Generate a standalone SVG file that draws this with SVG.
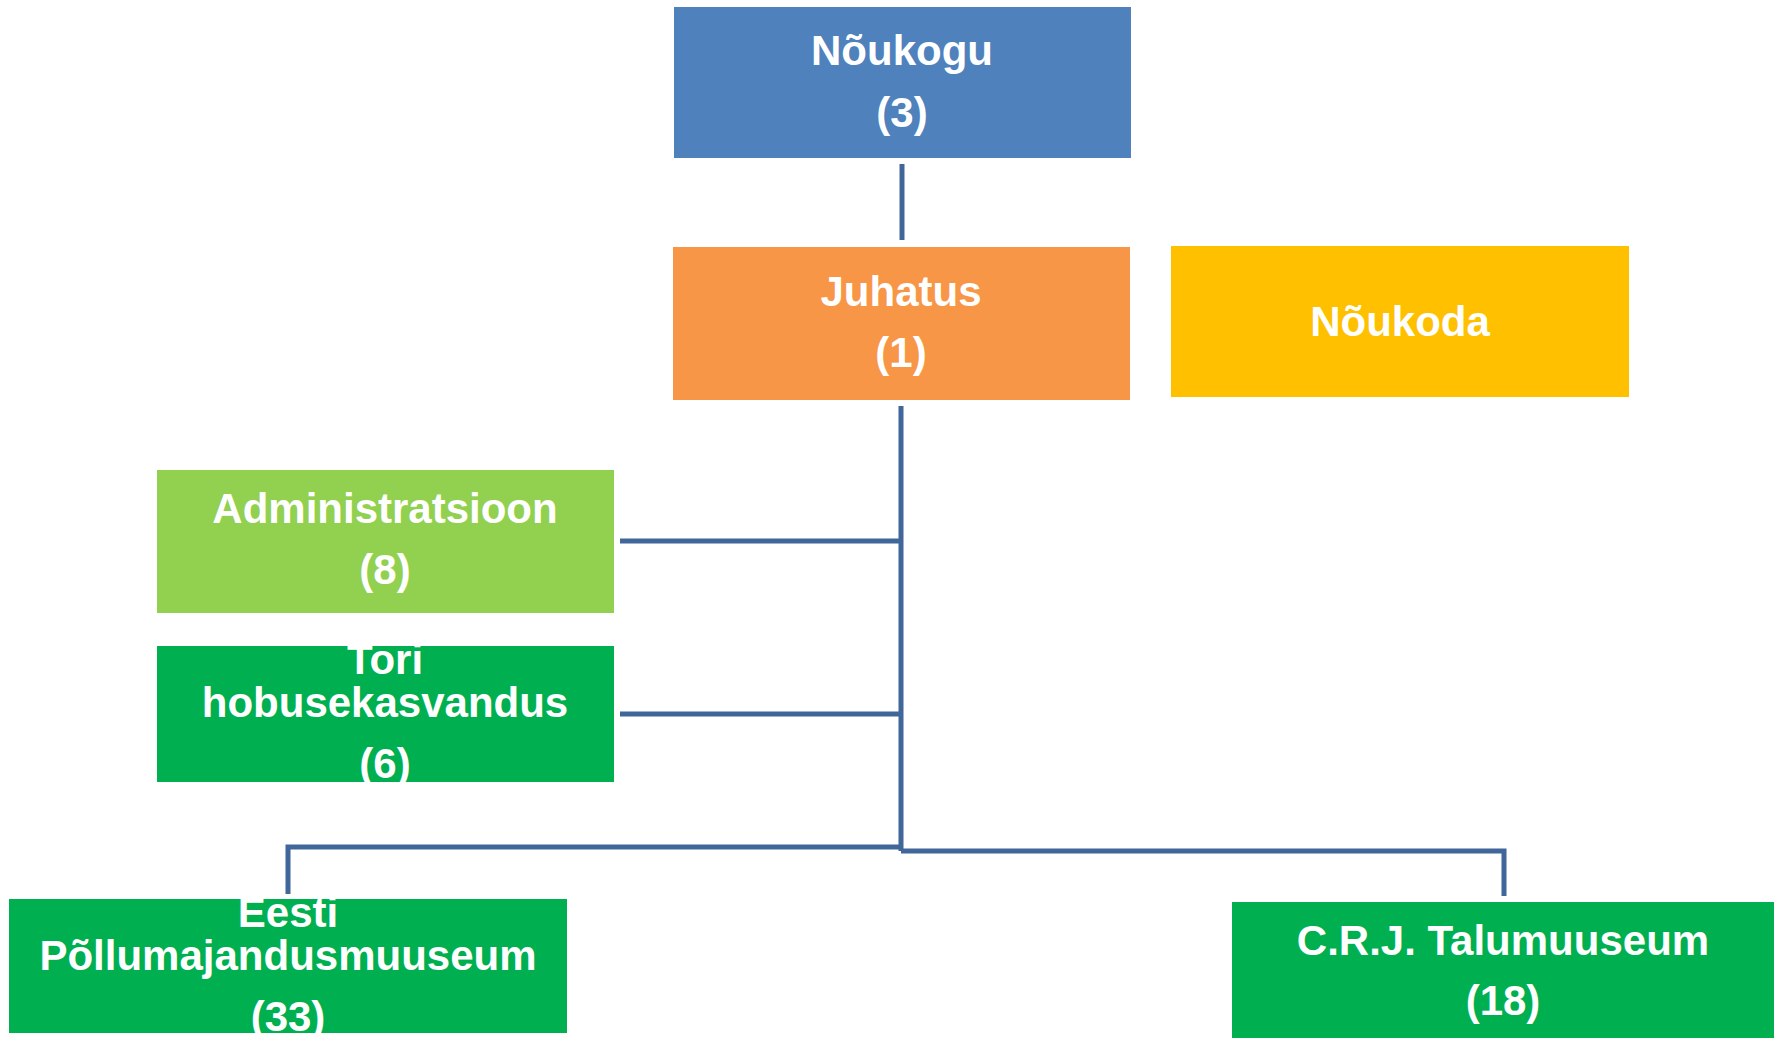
<svg xmlns="http://www.w3.org/2000/svg" width="1777" height="1038" viewBox="0 0 1777 1038">
<style>
text{font-family:"Liberation Sans",Arial,sans-serif;font-weight:bold;font-size:42px;fill:#fff;text-anchor:middle}
.c{stroke:#41669A;stroke-width:5;fill:none}
</style>
<rect width="1777" height="1038" fill="#fff"/>
<g id="connectors">
<line class="c" x1="902" y1="164" x2="902" y2="240"/>
<line class="c" x1="901" y1="406" x2="901" y2="851"/>
<line class="c" x1="620" y1="541" x2="901" y2="541"/>
<line class="c" x1="620" y1="714" x2="901" y2="714"/>
<polyline class="c" points="288,894 288,847 901,847"/>
<polyline class="c" points="901,851 1504,851 1504,896"/>
</g>
<g id="noukogu">
<rect x="674" y="7" width="457" height="151" fill="#4F81BD"/>
<text x="902" y="65">Nõukogu</text>
<text x="902" y="127">(3)</text>
</g>
<g id="juhatus">
<rect x="673" y="247" width="457" height="153" fill="#F79646"/>
<text x="901" y="306">Juhatus</text>
<text x="901" y="367">(1)</text>
</g>
<g id="noukoda">
<rect x="1171" y="246" width="458" height="151" fill="#FFC000"/>
<text x="1400" y="336">Nõukoda</text>
</g>
<g id="administratsioon">
<rect x="157" y="470" width="457" height="143" fill="#92D050"/>
<text x="385" y="523">Administratsioon</text>
<text x="385" y="584">(8)</text>
</g>
<g id="tori">
<rect x="157" y="646" width="457" height="136" fill="#00B050"/>
<text x="385" y="674">Tori</text>
<text x="385" y="717">hobusekasvandus</text>
<text x="385" y="778">(6)</text>
</g>
<g id="eesti">
<rect x="9" y="899" width="558" height="134" fill="#00B050"/>
<text x="288" y="927">Eesti</text>
<text x="288" y="970">Põllumajandusmuuseum</text>
<text x="288" y="1031">(33)</text>
</g>
<g id="crj">
<rect x="1232" y="902" width="542" height="140" fill="#00B050"/>
<text x="1503" y="955">C.R.J. Talumuuseum</text>
<text x="1503" y="1015">(18)</text>
</g>
</svg>
